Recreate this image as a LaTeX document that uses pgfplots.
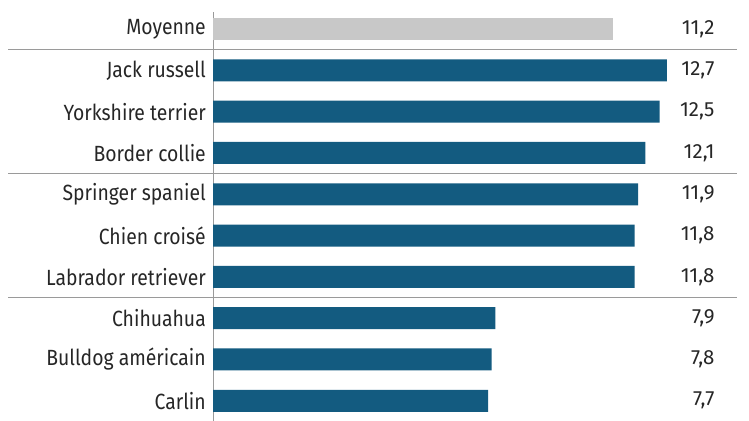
\documentclass[border=0pt]{standalone}
\usepackage{fontspec}
\setmainfont{Fira Sans}[FakeStretch=0.88]
\newfontfamily\numfont{Fira Sans}
\usepackage{pgfplots}
\pgfplotsset{compat=1.18}
\usepackage{pgfplotstable}
\definecolor{barblue}{HTML}{135B80}
\definecolor{bargray}{HTML}{C8C8C8}
\definecolor{txt}{HTML}{262626}
\definecolor{sep}{HTML}{9A9A9A}
\pgfplotstableread{
x y
11.2 9
}\avg
\pgfplotstableread{
x y
12.7 8
12.5 7
12.1 6
11.9 5
11.8 4
11.8 3
7.9 2
7.8 1
7.7 0
}\breeds
\pgfplotstableread{
x y label
14.04 9 11,2
14.04 8 12,7
14.04 7 12,5
14.04 6 12,1
14.04 5 11,9
14.04 4 11,8
14.04 3 11,8
14.04 2 7,9
14.04 1 7,8
14.04 0 7,7
}\vals
\begin{document}
\begin{tikzpicture}
\path[use as bounding box] (0,0) rectangle (749bp,421bp);
\begin{axis}[
  at={(213bp,0bp)}, anchor=south west,
  scale only axis, width=536bp, height=408.9bp,
  xmin=0, xmax=15, ymin=-0.49, ymax=9.41,
  axis x line=none, axis y line*=left,
  y axis line style={draw=sep, line width=0.8pt},
  ytick={0,...,9},
  yticklabels={Carlin,Bulldog américain,Chihuahua,Labrador retriever,Chien croisé,Springer spaniel,Border collie,Yorkshire terrier,Jack russell,Moyenne},
  major tick length=0pt,
  yticklabel style={font=\fontsize{22bp}{24bp}\selectfont, text=txt, inner sep=0pt, xshift=-7bp},
  clip=false,
  xbar, bar width=22bp, bar shift=0pt,
]
\addplot[draw=none, fill=bargray] table[x=x,y=y] {\avg};
\addplot[draw=none, fill=barblue] table[x=x,y=y] {\breeds};
\addplot[xbar=false, only marks, mark=none, nodes near coords, point meta=explicit symbolic,
  nodes near coords style={anchor=east, inner sep=0pt, font=\numfont\fontsize{20.5bp}{22bp}\selectfont, text=txt}]
  table[x=x,y=y,meta=label] {\vals};
\draw[sep, line width=0.8pt] (axis cs:-5.73,8.5) -- (axis cs:14.66,8.5);
\draw[sep, line width=0.8pt] (axis cs:-5.73,5.5) -- (axis cs:14.66,5.5);
\draw[sep, line width=0.8pt] (axis cs:-5.73,2.5) -- (axis cs:14.66,2.5);
\end{axis}
\end{tikzpicture}
\end{document}
